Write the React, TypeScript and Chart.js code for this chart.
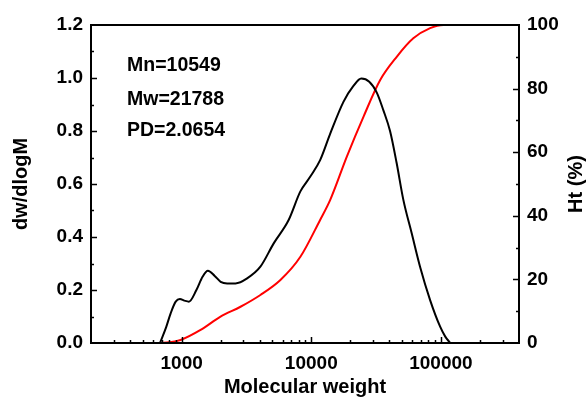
import React, { useEffect, useRef } from "react";
import { Chart, registerables } from "chart.js";

Chart.register(...registerables);

// Differential distribution: molecular weight vs dw/dlogM
const distMW = [681, 760, 823, 900, 970, 1050, 1138, 1300, 1450, 1594, 1800, 2000, 2245, 2602, 3200, 4050, 5130, 6690, 8240, 9830, 11700, 14000, 17700, 21000, 24300, 28000, 32000, 36000, 40500, 45500, 51300, 59500, 69000, 82500, 98600, 108000, 118000];
const dwdlogM = [0, 0.06, 0.112, 0.156, 0.166, 0.16, 0.156, 0.2, 0.25, 0.273, 0.253, 0.231, 0.225, 0.225, 0.244, 0.288, 0.376, 0.464, 0.572, 0.628, 0.69, 0.79, 0.91, 0.968, 0.998, 0.986, 0.945, 0.878, 0.8, 0.68, 0.54, 0.414, 0.288, 0.162, 0.0615, 0.024, 0];

// Cumulative distribution: molecular weight vs Ht (%)
const cumMW = [681, 800, 982, 1400, 1995, 2845, 4050, 5780, 8240, 11700, 14000, 18800, 25300, 34000, 45600, 61200, 82500, 104600, 120000];
const htPercent = [0, 0.2, 0.94, 4.1, 8.3, 11.4, 15.1, 19.8, 27.1, 38.7, 45, 58.6, 71.2, 82.7, 90, 95.8, 99, 100, 100];

const xLabelTicks = [1000, 10000, 100000];
const statsLines = ["Mn=10549", "Mw=21788", "PD=2.0654"];

const FONT = '"Liberation Sans", Arial, sans-serif';

const framePlugin = {
  id: "frameTicks",
  afterDraw(chart: any) {
    const { ctx, chartArea: a, scales } = chart;
    const xs = scales.x;
    const yl = scales.y;
    const yr = scales.y1;
    ctx.save();
    ctx.strokeStyle = "#000";
    ctx.lineWidth = 2;
    ctx.strokeRect(a.left, a.top, a.right - a.left, a.bottom - a.top);

    ctx.lineWidth = 1.5;
    ctx.beginPath();
    // log x ticks pointing inward
    for (let dec = 100; dec <= 1e6; dec *= 10) {
      for (let m = 1; m <= 9; m++) {
        const v = m * dec;
        if (v <= xs.min || v >= xs.max) continue;
        const px = Math.round(xs.getPixelForValue(v)) + 0.5;
        const len = m === 1 ? 6 : 3;
        ctx.moveTo(px, a.bottom);
        ctx.lineTo(px, a.bottom - len);
      }
    }
    // left y ticks
    for (let i = 1; i < 12; i++) {
      const py = Math.round(yl.getPixelForValue(i * 0.1)) + 0.5;
      const len = i % 2 === 0 ? 6 : 3;
      ctx.moveTo(a.left, py);
      ctx.lineTo(a.left + len, py);
    }
    // right y ticks
    for (let i = 1; i < 10; i++) {
      const py = Math.round(yr.getPixelForValue(i * 10)) + 0.5;
      const len = i % 2 === 0 ? 6 : 3;
      ctx.moveTo(a.right, py);
      ctx.lineTo(a.right - len, py);
    }
    ctx.stroke();

    // axis titles
    ctx.fillStyle = "#000";
    ctx.font = `bold 20px ${FONT}`;
    ctx.textAlign = "center";
    ctx.textBaseline = "middle";
    const cy = (a.top + a.bottom) / 2;
    ctx.fillText("Molecular weight", (a.left + a.right) / 2, 387);

    ctx.save();
    ctx.translate(21, cy);
    ctx.rotate(-Math.PI / 2);
    ctx.fillText("dw/dlogM", 0, 0);
    ctx.restore();

    ctx.save();
    ctx.translate(576, cy);
    ctx.rotate(-Math.PI / 2);
    ctx.fillText("Ht (%)", 0, 0);
    ctx.restore();

    // statistics
    ctx.textAlign = "left";
    ctx.font = `bold 19.5px ${FONT}`;
    const rows = [66, 99.5, 131];
    statsLines.forEach((t, i) => ctx.fillText(t, 127, rows[i]));
    ctx.restore();
  },
};

export default function App() {
  const ref = useRef<HTMLCanvasElement | null>(null);

  useEffect(() => {
    if (!ref.current) return;
    const tickFont = { family: FONT, size: 19, weight: "bold" as const };
    const chart = new Chart(ref.current, {
      type: "line",
      data: {
        datasets: [
          {
            label: "dw/dlogM",
            data: distMW.map((m, i) => ({ x: m, y: dwdlogM[i] })),
            borderColor: "#000000",
            borderWidth: 2,
            pointRadius: 0,
            cubicInterpolationMode: "monotone",
            yAxisID: "y",
          },
          {
            label: "Ht (%)",
            data: cumMW.map((m, i) => ({ x: m, y: htPercent[i] })),
            borderColor: "#ff0000",
            borderWidth: 2,
            pointRadius: 0,
            cubicInterpolationMode: "monotone",
            yAxisID: "y1",
          },
        ],
      },
      options: {
        animation: false,
        responsive: true,
        maintainAspectRatio: false,
        layout: { padding: { top: 25, left: 0, right: 0, bottom: 0 } },
        plugins: { legend: { display: false }, tooltip: { enabled: false } },
        scales: {
          x: {
            type: "logarithmic",
            min: 200,
            max: 400000,
            grid: { display: false, drawTicks: false },
            border: { display: false },
            afterFit: (s: any) => {
              s.height = 56;
            },
            ticks: {
              autoSkip: false,
              maxRotation: 0,
              minRotation: 0,
              padding: 9,
              color: "#000",
              font: tickFont,
              callback: (v: any) => {
                const n = Number(v);
                return xLabelTicks.some((t) => Math.abs(n - t) < 1e-6 * t) ? String(Math.round(n)) : "";
              },
            },
          },
          y: {
            position: "left",
            min: 0,
            max: 1.2,
            grid: { display: false, drawTicks: false },
            border: { display: false },
            afterFit: (s: any) => {
              s.width = 91;
            },
            ticks: {
              stepSize: 0.2,
              padding: 8,
              color: "#000",
              font: tickFont,
              callback: (v: any) => Number(v).toFixed(1),
            },
          },
          y1: {
            position: "right",
            min: 0,
            max: 100,
            grid: { display: false, drawTicks: false },
            border: { display: false },
            afterFit: (s: any) => {
              s.width = 68;
            },
            ticks: {
              stepSize: 20,
              padding: 8,
              color: "#000",
              font: tickFont,
            },
          },
        },
      },
      plugins: [framePlugin],
    });
    return () => chart.destroy();
  }, []);

  return (
    <div style={{ position: "absolute", left: 0, top: 0, width: 587, height: 399, background: "#fff" }}>
      <canvas ref={ref} />
    </div>
  );
}
